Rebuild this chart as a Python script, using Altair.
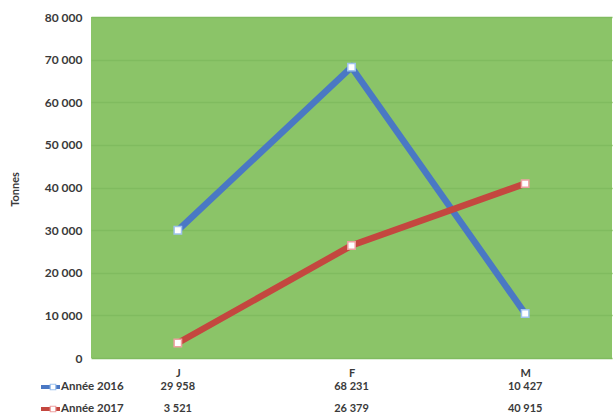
import altair as alt
import pandas as pd

# Monthly tonnage, first quarter, two years
months = ["J", "F", "M"]
series = ["Année 2016", "Année 2017"]
values_2016 = [29958, 68231, 10427]
values_2017 = [3521, 26379, 40915]
colors = ["#4a78c4", "#c4473f"]
marker_strokes = ["#9fc3ee", "#eea0a0"]

rows = []
for s, vals in zip(series, [values_2016, values_2017]):
    for m, v in zip(months, vals):
        rows.append({"mois": m, "serie": s, "tonnes": v,
                     "texte": f"{v:,}".replace(",", " ")})
df = pd.DataFrame(rows)

W, H = 521, 341
FONT = "Lato"
TXT = "#3a3a3a"
ROW_Y = [H + 29, H + 51]

x = alt.X("mois:N", sort=months, title=None,
          scale=alt.Scale(domain=months, padding=0.5),
          axis=alt.Axis(labelAngle=0, ticks=False, domain=False, labelPadding=9,
                        labelFont=FONT, labelFontSize=11, labelFontWeight="bold",
                        labelColor=TXT, grid=False))
y = alt.Y("tonnes:Q", title="Tonnes",
          scale=alt.Scale(domain=[0, 80000], nice=False),
          axis=alt.Axis(values=list(range(0, 80001, 10000)), ticks=False, domain=False,
                        labelPadding=9, labelFont=FONT, labelFontSize=12,
                        labelFontWeight="bold", labelColor=TXT,
                        labelExpr="replace(format(datum.value, ',d'), ',', ' ')",
                        grid=True, gridColor="#80bb5f", gridWidth=1.5,
                        titleFont=FONT, titleFontSize=11, titleFontWeight="bold",
                        titleColor=TXT, titleX=-76, titleY=172, titleAngle=-90,
                        titleAlign="center", titleBaseline="middle"))

color = alt.Color("serie:N", scale=alt.Scale(domain=series, range=colors), legend=None)
stroke_c = alt.Stroke("serie:N", scale=alt.Scale(domain=series, range=marker_strokes),
                      legend=None)

base = alt.Chart(df)
lines = base.mark_line(strokeWidth=6.5).encode(x=x, y=y, color=color)
points = base.mark_point(shape="square", filled=True, fill="white", size=55,
                         strokeWidth=1.5, opacity=1).encode(
    x=alt.X("mois:N", sort=months), y="tonnes:Q", stroke=stroke_c)

layers = [lines, points]

# data table under the plot: one row per series with its legend key
for s, col, mcol, ry in zip(series, colors, marker_strokes, ROW_Y):
    sub = base.transform_filter(alt.datum.serie == s)
    layers.append(sub.mark_text(font=FONT, fontSize=11, fontWeight="bold", color=TXT,
                                baseline="middle").encode(
        x=alt.X("mois:N", sort=months), y=alt.value(ry), text="texte:N"))
    key = sub.transform_filter(alt.datum.mois == months[0])
    layers.append(key.mark_rule(strokeWidth=4, color=col).encode(
        x=alt.value(-50), x2=alt.value(-31), y=alt.value(ry)))
    layers.append(key.mark_point(shape="square", filled=True, fill="white", size=30,
                                 strokeWidth=1.2, opacity=1, stroke=mcol).encode(
        x=alt.value(-38), y=alt.value(ry)))
    layers.append(key.mark_text(font=FONT, fontSize=11.5, fontWeight="bold", color=TXT,
                                align="left", baseline="middle").encode(
        x=alt.value(-30), y=alt.value(ry), text="serie:N"))

chart = alt.layer(*layers).properties(
    width=W, height=H,
    autosize=alt.AutoSizeParams(type="none"),
    padding={"left": 91, "top": 17, "right": 2, "bottom": 58},
    background="white",
).configure_view(fill="#8bc468", stroke=None)

chart.save("out.html", embed_options={"renderer": "svg", "actions": False})
